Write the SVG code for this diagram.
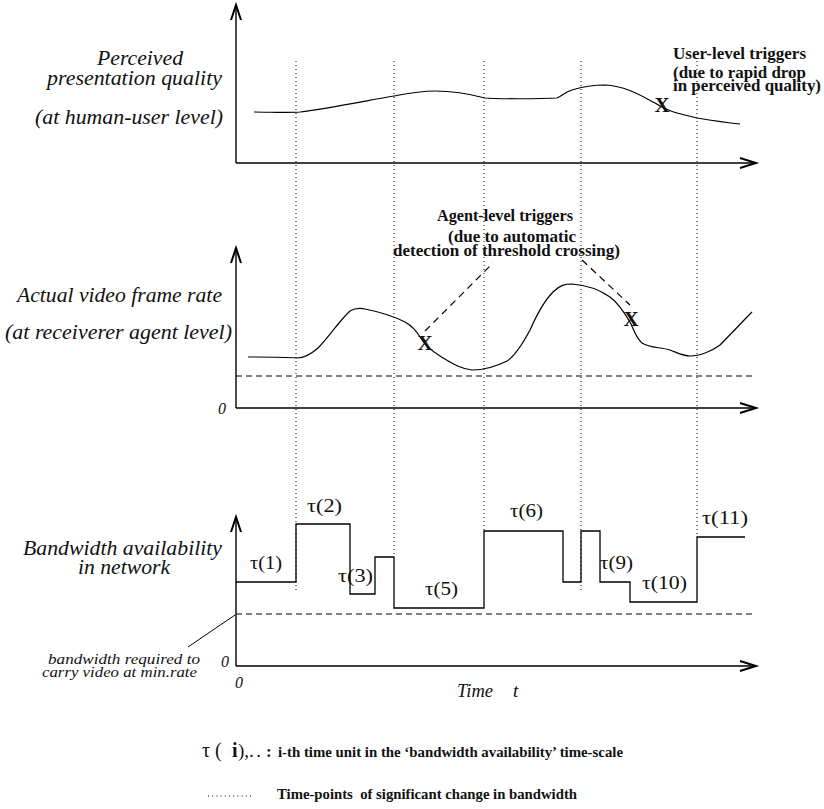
<svg xmlns="http://www.w3.org/2000/svg" width="824" height="809" viewBox="0 0 824 809">
  <style>
    .axis { fill: none; stroke: #000; stroke-width: 1.4; }
    .head { fill: none; stroke: #000; stroke-width: 2; stroke-linejoin: miter; }
    .curve { fill: none; stroke: #000; stroke-width: 1.2; }
    .step { fill: none; stroke: #000; stroke-width: 1.3; }
    .dotted { fill: none; stroke: #000; stroke-width: 1; stroke-dasharray: 1 3; }
    .dashed { fill: none; stroke: #000; stroke-width: 1; stroke-dasharray: 6 4; }
    .lead { fill: none; stroke: #000; stroke-width: 1.2; stroke-dasharray: 7 5; }
    .plain { fill: none; stroke: #000; stroke-width: 1; }
    .lbl { font-family: "Liberation Serif", "Times New Roman", "DejaVu Serif", serif; font-style: italic; font-size: 20px; fill: #111; }
    .note { font-family: "Liberation Serif", "Times New Roman", "DejaVu Serif", serif; font-style: italic; font-size: 14px; fill: #111; }
    .ann { font-family: "Liberation Serif", "Times New Roman", "DejaVu Serif", serif; font-weight: bold; font-size: 17px; fill: #111; }
    .mark { font-family: "Liberation Serif", "Times New Roman", "DejaVu Serif", serif; font-weight: bold; font-size: 21px; fill: #111; text-anchor: middle; }
    .tau { font-family: "Liberation Serif", "Times New Roman", "DejaVu Serif", serif; font-size: 19px; fill: #111; }
    .leg { font-family: "Liberation Serif", "Times New Roman", "DejaVu Serif", serif; font-weight: bold; font-size: 14px; fill: #111; }
  </style>

  <!-- time-points of significant bandwidth change -->
  <g id="timepoints">
    <line class="dotted" x1="296" y1="61" x2="296" y2="593"/>
    <line class="dotted" x1="394" y1="61" x2="394" y2="557"/>
    <line class="dotted" x1="484" y1="61" x2="484" y2="531"/>
    <line class="dotted" x1="581" y1="61" x2="581" y2="593"/>
    <line class="dotted" x1="697" y1="61" x2="697" y2="537"/>
  </g>

  <!-- panel 1: perceived quality -->
  <g id="quality-panel">
    <line class="axis" x1="236" y1="6" x2="236" y2="163"/>
    <line class="axis" x1="236" y1="163" x2="755" y2="163"/>
    <path class="head" d="M231,20 L236,5 L241,20"/>
    <path class="head" d="M740,158 L756,163 L740,168"/>
    <path class="curve" d="M254,112 C270,112 285,113 300,112 C330,108 370,100 394,96 C410,93 425,91 435,91 C455,91 470,94 485,98 C495,99 540,99 557,98 C562,96 565,92 572,90 C585,86 595,85 605,85 C625,86 640,95 655,103 C665,110 675,113 697,118 C715,121 730,123 740,124"/>
    <text class="lbl" x="140" y="65" text-anchor="middle" textLength="86" lengthAdjust="spacingAndGlyphs">Perceived</text>
    <text class="lbl" x="47" y="85" textLength="175" lengthAdjust="spacingAndGlyphs">presentation quality</text>
    <text class="lbl" x="35" y="124" textLength="188" lengthAdjust="spacingAndGlyphs">(at human-user level)</text>
  </g>

  <g id="user-trigger">
    <text class="mark" x="662" y="112">X</text>
    <text class="ann" x="673" y="59" textLength="133" lengthAdjust="spacingAndGlyphs">User-level triggers</text>
    <text class="ann" x="673" y="78" textLength="133" lengthAdjust="spacingAndGlyphs">(due to rapid drop</text>
    <text class="ann" x="673" y="91" textLength="148" lengthAdjust="spacingAndGlyphs">in perceived quality)</text>
  </g>

  <!-- panel 2: video frame rate -->
  <g id="framerate-panel">
    <line class="axis" x1="236" y1="249" x2="236" y2="408"/>
    <line class="axis" x1="236" y1="408" x2="755" y2="408"/>
    <path class="head" d="M231,263 L236,248 L241,263"/>
    <path class="head" d="M740,403 L756,408 L740,413"/>
    <line class="dashed" x1="236" y1="376" x2="756" y2="376"/>
    <path class="curve" d="M248,357 C265,357 285,357 297,358 C303,358 310,355 318,348 C328,338 340,320 350,311 C355,308 360,308 365,309 C380,312 395,317 405,322 C412,326 416,330 420,337 C425,345 430,350 440,356 C450,362 460,369 472,370 C482,370 495,367 507,361 C515,356 522,345 530,330 C538,312 545,300 553,292 C560,285 565,284 572,284 C585,285 600,290 610,297 C618,303 624,312 630,322 C634,330 636,338 642,343 C650,348 660,347 670,350 C678,353 683,356 690,356 C700,356 712,351 720,345 C730,335 742,322 752,312"/>
    <text class="lbl" x="17" y="302" textLength="205" lengthAdjust="spacingAndGlyphs">Actual video frame rate</text>
    <text class="lbl" x="5" y="339" textLength="227" lengthAdjust="spacingAndGlyphs">(at receiverer agent level)</text>
    <text class="lbl" x="218" y="414" style="font-size:16px">0</text>
  </g>

  <g id="agent-triggers">
    <line class="lead" x1="425" y1="331" x2="493" y2="263"/>
    <line class="lead" x1="582" y1="260" x2="630" y2="305"/>
    <text class="mark" x="425" y="350">X</text>
    <text class="mark" x="631" y="326">X</text>
    <text class="ann" x="437" y="221" textLength="136" lengthAdjust="spacingAndGlyphs">Agent-level triggers</text>
    <text class="ann" x="448" y="242" textLength="128" lengthAdjust="spacingAndGlyphs">(due to automatic</text>
    <text class="ann" x="393" y="256" textLength="227" lengthAdjust="spacingAndGlyphs">detection of threshold crossing)</text>
  </g>

  <!-- panel 3: bandwidth availability -->
  <g id="bandwidth-panel">
    <line class="axis" x1="236" y1="518" x2="236" y2="666"/>
    <line class="axis" x1="236" y1="666" x2="755" y2="666"/>
    <path class="head" d="M231,532 L236,517 L241,532"/>
    <path class="head" d="M740,661 L756,666 L740,671"/>
    <line class="dashed" x1="236" y1="614" x2="756" y2="614"/>
    <path class="step" d="M236,582 H296 V524 H350 V594 H375 V557 H394 V608 H484 V531 H563 V582 H581 V531 H600 V582 H630 V602 H697 V537 H745"/>
    <text class="lbl" x="23" y="555" textLength="199" lengthAdjust="spacingAndGlyphs">Bandwidth availability</text>
    <text class="lbl" x="78" y="574" textLength="92" lengthAdjust="spacingAndGlyphs">in network</text>
    <text class="lbl" x="221" y="667" style="font-size:16px">0</text>
    <text class="lbl" x="235" y="688" style="font-size:16px">0</text>
    <text class="lbl" x="457" y="697" style="font-size:19px" textLength="36" lengthAdjust="spacingAndGlyphs">Time</text>
    <text class="lbl" x="513" y="697" style="font-size:19px">t</text>
  </g>

  <g id="tau-labels">
    <text class="tau" x="250" y="569" textLength="32" lengthAdjust="spacingAndGlyphs">τ(1)</text>
    <text class="tau" x="307" y="512" textLength="35" lengthAdjust="spacingAndGlyphs">τ(2)</text>
    <text class="tau" x="338" y="582" textLength="35" lengthAdjust="spacingAndGlyphs">τ(3)</text>
    <text class="tau" x="425" y="595" textLength="33" lengthAdjust="spacingAndGlyphs">τ(5)</text>
    <text class="tau" x="510" y="517" textLength="33" lengthAdjust="spacingAndGlyphs">τ(6)</text>
    <text class="tau" x="600" y="569" textLength="33" lengthAdjust="spacingAndGlyphs">τ(9)</text>
    <text class="tau" x="642" y="589" textLength="45" lengthAdjust="spacingAndGlyphs">τ(10)</text>
    <text class="tau" x="702" y="524" textLength="46" lengthAdjust="spacingAndGlyphs">τ(11)</text>
  </g>

  <g id="min-rate-note">
    <line class="plain" x1="235" y1="615" x2="188" y2="647"/>
    <text class="note" x="48" y="664" textLength="152" lengthAdjust="spacingAndGlyphs">bandwidth required to</text>
    <text class="note" x="42" y="677" textLength="155" lengthAdjust="spacingAndGlyphs">carry video at min.rate</text>
  </g>

  <!-- key -->
  <g id="legend">
    <text class="tau" x="202" y="757" style="font-size:20px">τ</text>
    <text class="tau" x="215" y="757" style="font-size:20px">(</text>
    <text class="tau" x="232" y="757" style="font-size:20px;font-weight:bold">i</text>
    <text class="tau" x="238" y="757">),</text>
    <text class="tau" x="249" y="757" textLength="12" lengthAdjust="spacing">. .</text>
    <text class="tau" x="266" y="757" style="font-size:17px;font-weight:bold">:</text>
    <text class="leg" x="278" y="757" textLength="345" lengthAdjust="spacingAndGlyphs">i-th time unit in the ‘bandwidth availability’ time-scale</text>
    <line class="dotted" x1="208" y1="796" x2="252" y2="796" style="stroke-dasharray:1 3.2"/>
    <text class="leg" x="277" y="799" textLength="300" lengthAdjust="spacingAndGlyphs" xml:space="preserve">Time-points  of significant change in bandwidth</text>
  </g>
</svg>
